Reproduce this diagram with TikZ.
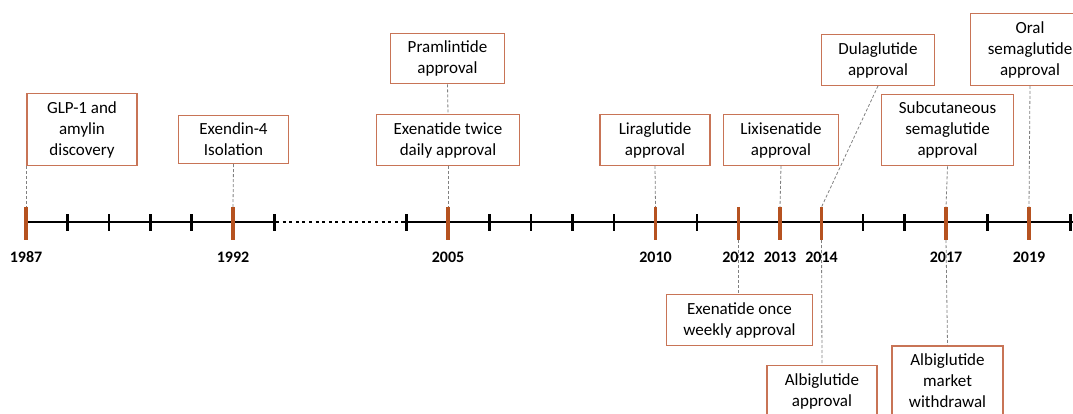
\documentclass[tikz,border=0pt]{standalone}
\usepackage{fontspec}
\setmainfont{Carlito}
\definecolor{tickorange}{RGB}{182,82,32}
\definecolor{boxedge}{RGB}{200,116,86}
\begin{document}
\begin{tikzpicture}[x=1pt,y=-1pt,
    event/.style={draw=boxedge,line width=1.3pt,fill=white,align=center,
      inner xsep=17pt,inner ysep=7.5pt,minimum width=110pt,
      font=\fontsize{17}{21}\selectfont},
    year/.style={font=\fontsize{16}{18}\selectfont\bfseries},
    link/.style={gray,line width=0.8pt,dash pattern=on 3pt off 2pt},
    axis/.style={line width=2.6pt,black},
    minor/.style={line width=2.6pt,black},
    major/.style={line width=3.2pt,tickorange}]
  \clip (0,0) rectangle (1073,414);

  % the time axis
  \draw[axis] (26,222) -- (274,222);
  \draw[axis,line width=2.8pt,dash pattern=on 3pt off 3.6pt] (276,222) -- (403,222);
  \draw[axis] (403,222) -- (1075,222);

  % small ticks
  \foreach \y in {1988,1989,1990,1991,1993}
    \draw[minor] ({26+(\y-1987)*41.4},214) -- ({26+(\y-1987)*41.4},231);
  \foreach \y in {2004,2006,2007,2008,2009,2011,2015,2016,2018,2020}
    \draw[minor] ({448+(\y-2005)*41.5},214) -- ({448+(\y-2005)*41.5},231);

  % marked years
  \foreach \y in {1987,1992} {
    \coordinate (u\y) at ({26+(\y-1987)*41.4},207);
    \coordinate (d\y) at ({26+(\y-1987)*41.4},240);
  }
  \foreach \y in {2005,2010,2012,2013,2014,2017,2019} {
    \coordinate (u\y) at ({448+(\y-2005)*41.5},207);
    \coordinate (d\y) at ({448+(\y-2005)*41.5},240);
  }
  \foreach \y in {1987,1992,2005,2010,2012,2013,2014,2017,2019} {
    \draw[major] (u\y) -- (d\y);
    \node[year] (l\y) at ([yshift=-17pt]d\y) {\y};
  }

  % events above the axis
  \node[event] (glp) at (82,129.5) {GLP-1 and\\amylin\\discovery};
  \node[event] (exendin) at (233.5,139.5) {Exendin-4\\Isolation};
  \node[event] (pram) at (447.5,58.5) {Pramlintide\\approval};
  \node[event] (exetwice) at (448,140) {Exenatide twice\\daily approval};
  \node[event] (lira) at (655,140) {Liraglutide\\approval};
  \node[event] (lixi) at (781,140) {Lixisenatide\\approval};
  \node[event] (dula) at (878,60) {Dulaglutide\\approval};
  \node[event] (subsema) at (947.5,130) {Subcutaneous\\semaglutide\\approval};
  \node[event] (oralsema) at (1030,49.5) {Oral\\semaglutide\\approval};

  % events below the axis
  \node[event] (exeonce) at (739.5,320) {Exenatide once\\weekly approval};
  \node[event] (albiapp) at (822,391) {Albiglutide\\approval};
  \node[event] (albiwd) at (947.5,380.5) {Albiglutide\\market\\withdrawal};

  \begin{scope}[link]
    \draw (glp.south -| u1987) to (u1987);
    \draw (exendin.south) to (u1992);
    \draw (pram.south) to (exetwice.north);
    \draw (exetwice.south) to (u2005);
    \draw (lira.south) to (u2010);
    \draw (lixi.south) to (u2013);
    \draw (dula.south) to (u2014);
    \draw (subsema.south) to (u2017);
    \draw (oralsema.south) to (u2019);
    \draw (d2012) to (exeonce.north -| d2012);
    \draw (d2014) to (albiapp.north);
    \draw (d2017) to (albiwd.north);
  \end{scope}
\end{tikzpicture}
\end{document}
